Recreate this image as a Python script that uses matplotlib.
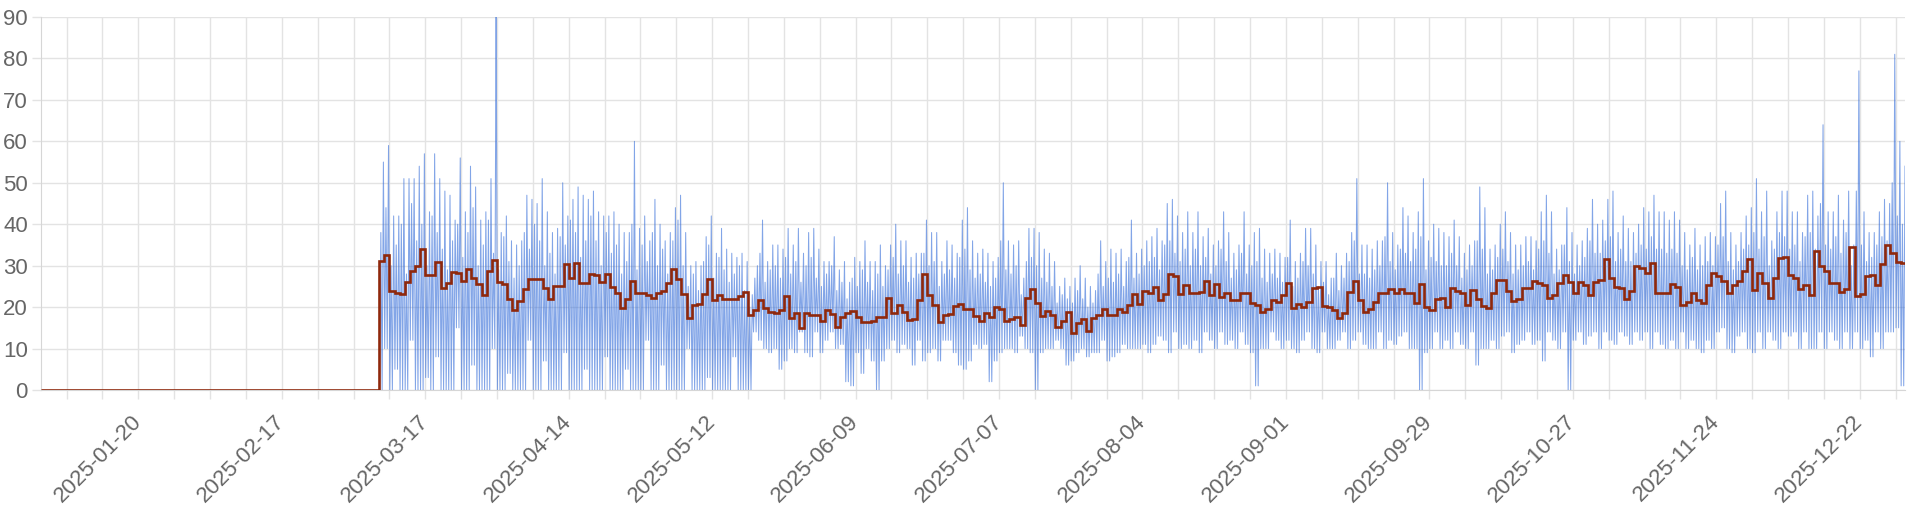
import numpy as np
import pandas as pd
import matplotlib
matplotlib.use('Agg')
import matplotlib.pyplot as plt
import matplotlib.dates as mdates
from matplotlib.ticker import FixedLocator

plt.rcParams['font.family'] = ['Liberation Sans', 'DejaVu Sans']

# daily mean is zero from Jan 1 until the sensor data starts
idle_days = 66
first_day = '2025-03-08'

# daily mean (red step line), 2025-03-08 .. 2025-12-30
daily_mean = [
    31.1, 32.6, 23.9, 23.5, 23.2, 26.1, 28.8, 29.8, 34.1, 27.8, 27.8, 30.9, 24.5, 25.9,
    28.5, 28.3, 26.4, 29.1, 27.1, 25.5, 22.9, 28.8, 31.4, 26.1, 25.6, 21.9, 19.3, 21.5,
    24.3, 26.7, 26.7, 26.7, 24.5, 22.0, 25.2, 25.2, 30.4, 27.0, 30.6, 25.7, 25.9, 28.0,
    27.8, 26.1, 28.0, 24.9, 23.3, 19.7, 22.0, 26.3, 23.3, 23.5, 22.9, 22.3, 23.3, 23.9,
    25.7, 29.3, 26.7, 23.2, 17.3, 20.5, 20.8, 23.2, 26.7, 21.7, 23.0, 22.0, 21.9, 21.9,
    22.7, 23.7, 18.1, 19.3, 21.7, 19.7, 18.9, 18.5, 19.3, 22.8, 17.3, 18.5, 14.9, 18.5,
    18.1, 18.1, 16.7, 19.3, 18.3, 15.3, 17.5, 18.5, 19.1, 17.7, 16.3, 16.3, 16.7, 17.7,
    17.7, 22.3, 18.5, 20.5, 18.9, 16.9, 17.1, 21.7, 28.0, 22.9, 20.5, 16.5, 18.1, 18.3,
    20.3, 20.8, 19.5, 19.5, 17.9, 16.7, 18.5, 17.5, 20.1, 19.5, 16.7, 17.1, 17.5, 15.7,
    22.3, 24.3, 21.1, 17.9, 19.1, 18.1, 15.3, 16.7, 18.7, 13.7, 16.1, 17.1, 14.2, 17.3,
    18.1, 19.5, 18.1, 18.1, 19.5, 18.9, 20.5, 23.1, 20.7, 24.0, 23.5, 24.9, 21.7, 23.2,
    28.0, 27.4, 23.1, 25.3, 23.3, 23.3, 23.7, 26.3, 22.9, 25.5, 22.5, 23.5, 21.7, 21.7,
    23.5, 23.3, 21.1, 20.5, 18.9, 19.5, 21.7, 21.2, 22.9, 25.7, 19.9, 20.8, 20.0, 21.3,
    24.5, 24.8, 20.3, 20.1, 19.3, 17.3, 18.5, 23.7, 26.4, 21.7, 18.7, 19.5, 21.3, 23.3,
    23.5, 24.3, 23.5, 24.3, 23.5, 23.3, 20.9, 25.5, 20.1, 19.3, 21.9, 22.3, 20.1, 24.5,
    24.0, 23.3, 20.5, 24.1, 21.9, 20.3, 19.7, 23.3, 26.5, 26.5, 24.0, 21.5, 21.9, 24.5,
    24.7, 26.3, 25.7, 25.3, 22.1, 22.9, 25.9, 27.8, 26.1, 23.3, 26.1, 25.3, 22.9, 26.1,
    26.5, 31.5, 27.0, 24.9, 24.5, 21.9, 24.0, 29.8, 29.4, 28.3, 30.6, 23.5, 23.5, 23.3,
    25.5, 24.8, 20.5, 21.3, 23.5, 21.7, 20.9, 25.3, 28.2, 27.4, 26.3, 23.3, 25.3, 26.4,
    28.6, 31.5, 24.1, 28.2, 25.9, 22.1, 27.0, 31.8, 32.0, 27.8, 27.0, 24.3, 25.3, 22.9,
    33.6, 29.9, 28.6, 25.9, 25.7, 23.6, 24.3, 34.4, 22.7, 23.2, 27.5, 27.8, 25.3, 30.4,
    35.0, 33.1, 31.0, 30.6,
]

# raw readings (blue line): evening peak, smaller morning peak and low of each day
daily_high = [
    55, 59, 42, 42, 51, 51, 51, 54, 57, 43, 57, 51, 48, 47, 41, 56, 43, 54, 49, 41, 43,
    51, 95, 38, 42, 36, 35, 36, 47, 46, 45, 51, 43, 38, 39, 50, 42, 46, 49, 47, 46, 48,
    43, 42, 42, 43, 40, 38, 38, 60, 39, 42, 36, 46, 40, 36, 38, 44, 47, 38, 30, 31, 30,
    37, 42, 33, 39, 34, 33, 32, 33, 31, 23, 30, 41, 31, 35, 35, 34, 39, 35, 39, 33, 38,
    39, 34, 31, 31, 37, 29, 31, 26, 32, 31, 36, 31, 31, 35, 30, 35, 40, 36, 36, 32, 33,
    33, 41, 38, 38, 31, 36, 35, 33, 41, 44, 36, 33, 34, 33, 31, 32, 50, 36, 35, 36, 27,
    39, 39, 38, 34, 33, 31, 25, 27, 25, 27, 30, 27, 25, 24, 36, 31, 34, 33, 34, 31, 41,
    33, 34, 36, 37, 39, 36, 45, 46, 42, 38, 43, 38, 43, 37, 39, 35, 36, 43, 38, 33, 35,
    43, 35, 38, 39, 34, 33, 34, 33, 32, 41, 31, 33, 39, 39, 35, 31, 31, 27, 33, 30, 33,
    38, 51, 35, 35, 34, 36, 36, 50, 38, 35, 44, 42, 38, 43, 51, 36, 40, 39, 38, 37, 41,
    37, 33, 35, 36, 49, 44, 34, 35, 40, 43, 38, 35, 35, 37, 37, 36, 43, 47, 43, 34, 35,
    44, 38, 35, 36, 39, 46, 40, 41, 46, 48, 38, 42, 39, 38, 40, 44, 43, 47, 43, 43, 41,
    43, 41, 38, 35, 39, 35, 37, 38, 37, 45, 48, 38, 35, 38, 42, 44, 51, 43, 48, 36, 43,
    48, 48, 43, 43, 38, 47, 48, 42, 64, 43, 43, 47, 41, 48, 35, 77, 43, 38, 38, 43, 46,
    45, 81, 60, 54,
]

morning_peak = [
    38, 44, 30, 35, 40, 28, 45, 36, 40, 30, 42, 38, 34, 29, 36, 40, 32, 38, 44, 30, 35,
    41, 33, 29, 37, 31, 27, 30, 38, 34, 40, 36, 30, 33, 28, 37, 35, 41, 38, 32, 36, 42,
    36, 30, 38, 33, 35, 28, 31, 40, 29, 35, 31, 38, 30, 34, 28, 36, 41, 30, 25, 28, 24,
    31, 35, 27, 32, 29, 26, 28, 30, 24, 20, 27, 33, 26, 29, 30, 27, 32, 28, 31, 26, 30,
    32, 27, 25, 28, 30, 24, 26, 22, 27, 25, 29, 26, 24, 28, 25, 29, 32, 28, 30, 26, 27,
    28, 33, 30, 31, 25, 28, 29, 27, 32, 34, 29, 27, 28, 26, 25, 27, 36, 29, 28, 30, 23,
    31, 32, 30, 27, 26, 25, 21, 23, 22, 21, 24, 22, 20, 21, 28, 25, 27, 26, 28, 25, 32,
    27, 28, 30, 31, 32, 29, 35, 36, 33, 31, 34, 30, 34, 30, 32, 28, 30, 34, 31, 27, 29,
    33, 28, 30, 31, 27, 26, 28, 27, 26, 32, 25, 27, 31, 30, 28, 25, 26, 23, 27, 24, 27,
    31, 36, 28, 28, 27, 29, 30, 37, 31, 29, 34, 33, 31, 34, 37, 29, 32, 31, 30, 30, 33,
    30, 27, 29, 30, 36, 34, 28, 29, 32, 34, 31, 28, 29, 30, 31, 29, 34, 36, 33, 28, 29,
    35, 31, 28, 30, 32, 36, 33, 33, 36, 37, 31, 34, 31, 31, 33, 35, 34, 37, 34, 34, 33,
    34, 33, 30, 29, 32, 29, 30, 31, 30, 35, 37, 31, 29, 31, 34, 35, 38, 34, 37, 30, 34,
    38, 37, 34, 35, 31, 37, 38, 34, 45, 35, 34, 37, 33, 38, 30, 48, 35, 31, 32, 35, 37,
    36, 50, 42, 40,
]

daily_low = [
    0, 10, 0, 5, 0, 0, 12, 0, 0, 3, 0, 8, 0, 0, 0, 15, 0, 0, 6, 0, 0, 0, 10, 0, 0, 4,
    0, 0, 0, 12, 0, 0, 7, 0, 0, 0, 9, 0, 0, 0, 5, 0,
    0, 0, 8, 0, 0, 0, 5, 0, 0, 0, 12, 0, 0, 6, 0, 0, 0, 0, 10, 0, 0, 0, 3, 0, 0, 0, 0,
    8, 0, 0, 0, 14, 12, 10, 9, 10, 5, 7, 10, 9, 14, 9, 8,
    14, 9, 12, 14, 10, 11, 2, 1, 9, 4, 10, 7, 0, 7, 10, 12, 9, 11, 10, 6, 12, 7, 9, 10,
    7, 12, 12, 9, 6, 5, 7, 11, 10, 11, 2, 7, 9, 10, 10, 9, 13, 10, 9,
    0, 9, 10, 10, 12, 10, 6, 7, 9, 10, 8, 9, 9, 12, 7, 8, 9, 11, 10, 10, 10, 11, 9, 11,
    13, 12, 9, 14, 10, 11, 10, 12, 9, 14, 12, 10, 14, 11, 12, 10, 14, 11, 9,
    1, 10, 10, 14, 12, 10, 12, 10, 9, 12, 14, 10, 9, 14, 10, 10, 12, 14, 10, 12, 14, 11,
    10, 10, 14, 10, 12, 11, 13, 14, 10, 10, 0, 9, 10, 14, 10, 12, 10, 14, 11, 10, 14,
    6, 10, 10, 12, 10, 13, 14, 9, 11, 12, 14, 11, 12, 7, 14, 12, 10, 14, 0, 12, 14, 11,
    13, 14, 10, 14, 12, 11, 14, 13, 11, 14, 12, 14, 10, 14, 11, 10, 12, 10, 14, 10, 12,
    10, 9, 12, 10, 14, 15, 10, 9, 13, 14, 10, 9, 14, 10, 14, 12, 10, 14, 13, 14, 10, 14,
    10, 10, 14, 10, 14, 12, 10, 14, 10, 14, 10, 12, 8, 14, 10, 14, 14, 15, 1,
]

tick_dates = ['2025-01-20', '2025-02-17', '2025-03-17', '2025-04-14', '2025-05-12',
              '2025-06-09', '2025-07-07', '2025-08-04', '2025-09-01', '2025-09-29',
              '2025-10-27', '2025-11-24', '2025-12-22']

GRID = '#e3e3e3'
LABEL = '#666666'

days = pd.date_range(first_day, periods=len(daily_mean), freq='D')

# four readings per day: low, morning peak, low, evening peak
offsets = [2, 8, 14, 20]
values = [daily_low, morning_peak, daily_low, daily_high]
n = len(days)
raw_t = np.empty(4 * n, dtype='datetime64[ns]')
raw_v = np.empty(4 * n)
for k, (h, v) in enumerate(zip(offsets, values)):
    raw_t[k::4] = (days + pd.Timedelta(hours=h)).values
    raw_v[k::4] = v

mean_values = [0.0] * idle_days + daily_mean
edges = pd.date_range('2025-01-01', periods=len(mean_values) + 1, freq='D')

fig = plt.figure(figsize=(19.2, 5.12), dpi=100)
ax = fig.add_axes([41 / 1920, 1 - 390 / 512, (1905 - 41) / 1920, (390 - 17) / 512])

ax.plot(raw_t, raw_v, color='#2f69d8', lw=0.75, alpha=0.6, zorder=2)
ax.stairs(mean_values, mdates.date2num(edges), baseline=None,
          color='#8f280c', lw=1.9, zorder=3)

ax.set_xlim(pd.Timestamp('2025-01-01'), raw_t[-1])
ax.set_ylim(0, 90)
ax.set_yticks(range(0, 91, 10))

ax.xaxis.set_major_locator(FixedLocator(mdates.date2num(pd.to_datetime(tick_dates))))
ax.xaxis.set_minor_locator(mdates.WeekdayLocator(byweekday=mdates.MO))
ax.set_xticklabels(tick_dates, rotation=45, ha='right', va='center',
                   rotation_mode='anchor')

ax.grid(True, which='both', axis='x', color=GRID, lw=1)
ax.grid(True, which='major', axis='y', color=GRID, lw=1)
ax.set_axisbelow(True)

for side in ['top', 'right']:
    ax.spines[side].set_visible(False)
for side in ['left', 'bottom']:
    ax.spines[side].set_color('#d6d6d6')

ax.tick_params(axis='both', which='both', color=GRID, length=6.5, width=1,
               labelcolor=LABEL, labelsize=16)
ax.tick_params(axis='y', pad=3)
ax.tick_params(axis='x', which='major', pad=14)

fig.savefig('out.png', dpi=100)
